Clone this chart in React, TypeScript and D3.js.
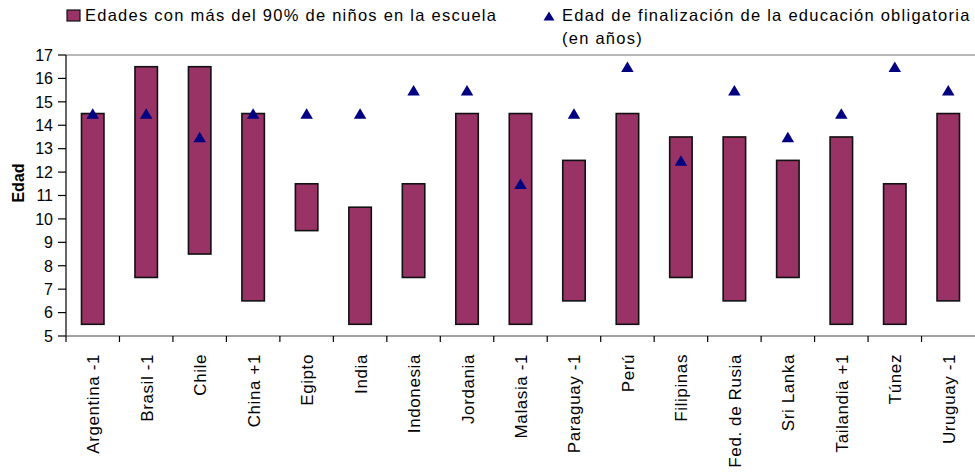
import React from "react";
import * as d3 from "d3";

const categories = ["Argentina -1", "Brasil -1", "Chile", "China +1", "Egipto", "India", "Indonesia", "Jordania", "Malasia -1", "Paraguay -1", "Perú", "Filipinas", "Fed. de Rusia", "Sri Lanka", "Tailandia +1", "Túnez", "Uruguay -1"];
const lowAge = [5.5, 7.5, 8.5, 6.5, 9.5, 5.5, 7.5, 5.5, 5.5, 6.5, 5.5, 7.5, 6.5, 7.5, 5.5, 5.5, 6.5];
const highAge = [14.5, 16.5, 16.5, 14.5, 11.5, 10.5, 11.5, 14.5, 14.5, 12.5, 14.5, 13.5, 13.5, 12.5, 13.5, 11.5, 14.5];
const compulsoryEnd = [14.5, 14.5, 13.5, 14.5, 14.5, 14.5, 15.5, 15.5, 11.5, 14.5, 16.5, 12.5, 15.5, 13.5, 14.5, 16.5, 15.5];
const yTicks = [5, 6, 7, 8, 9, 10, 11, 12, 13, 14, 15, 16, 17];

const W = 975, H = 476;
const left = 66, right = 975, top = 55, bottom = 336;
const FONT = "'Liberation Sans', Arial, sans-serif";

function triPath(w: number, h: number) {
  const p = d3.path();
  p.moveTo(0, -h / 2);
  p.lineTo(w / 2, h / 2);
  p.lineTo(-w / 2, h / 2);
  p.closePath();
  return p.toString();
}

export default function App() {
  const x = d3.scaleBand<string>().domain(categories).range([left, right]).paddingInner(0).paddingOuter(0);
  const y = d3.scaleLinear().domain([5, 17]).range([bottom, top]);
  const bw = x.bandwidth() * 0.42;
  const tri = triPath(12.5, 10.5);

  return (
    <svg width={W} height={H} style={{ position: "absolute", left: 0, top: 0, background: "#fff" }} fontFamily={FONT}>
      <line x1={left} x2={right} y1={top} y2={top} stroke="#a0a0a0" strokeWidth={1.5} />
      {categories.map((c, i) => (
        <rect key={c} x={x(c)! + x.bandwidth() / 2 - bw / 2} y={y(highAge[i])} width={bw} height={y(lowAge[i]) - y(highAge[i])}
          fill="#993366" stroke="#111" strokeWidth={1.6} />
      ))}
      {categories.map((c, i) => (
        <path key={c} d={tri} transform={`translate(${x(c)! + x.bandwidth() / 2},${y(compulsoryEnd[i])})`} fill="#000080" />
      ))}
      <line x1={left} x2={left} y1={top} y2={bottom} stroke="#000" strokeWidth={1.2} />
      {yTicks.map(t => (
        <g key={t}>
          <line x1={left - 8} x2={left} y1={y(t)} y2={y(t)} stroke="#000" strokeWidth={1.2} />
          <text x={53} y={y(t)} dy="0.36em" textAnchor="end" fontSize={16}>{t}</text>
        </g>
      ))}
      <line x1={left} x2={right} y1={bottom} y2={bottom} stroke="#444" strokeWidth={1.2} />
      {categories.map(c => (
        <line key={c} x1={x(c)!} x2={x(c)!} y1={bottom} y2={bottom + 6} stroke="#000" strokeWidth={1.2} />
      ))}
      {categories.map(c => (
        <text key={c} transform={`translate(${x(c)! + x.bandwidth() / 2 + 6.5},${354}) rotate(-90)`} textAnchor="end" fontSize={17} letterSpacing={0.6}>{c}</text>
      ))}
      <text transform={`translate(${24},${183}) rotate(-90)`} textAnchor="middle" fontSize={16} fontWeight="bold">Edad</text>
      <rect x={67} y={10} width={13} height={11} fill="#993366" stroke="#111" strokeWidth={1.2} />
      <text x={85} y={21} fontSize={16.5} letterSpacing={1.25}>Edades con más del 90% de niños en la escuela</text>
      <path d={triPath(11, 9)} transform="translate(549,16)" fill="#000080" />
      <text x={562} y={21} fontSize={16.5} letterSpacing={1.25}>Edad de finalización de la educación obligatoria</text>
      <text x={562} y={44} fontSize={16.5} letterSpacing={1.25}>(en años)</text>
    </svg>
  );
}
